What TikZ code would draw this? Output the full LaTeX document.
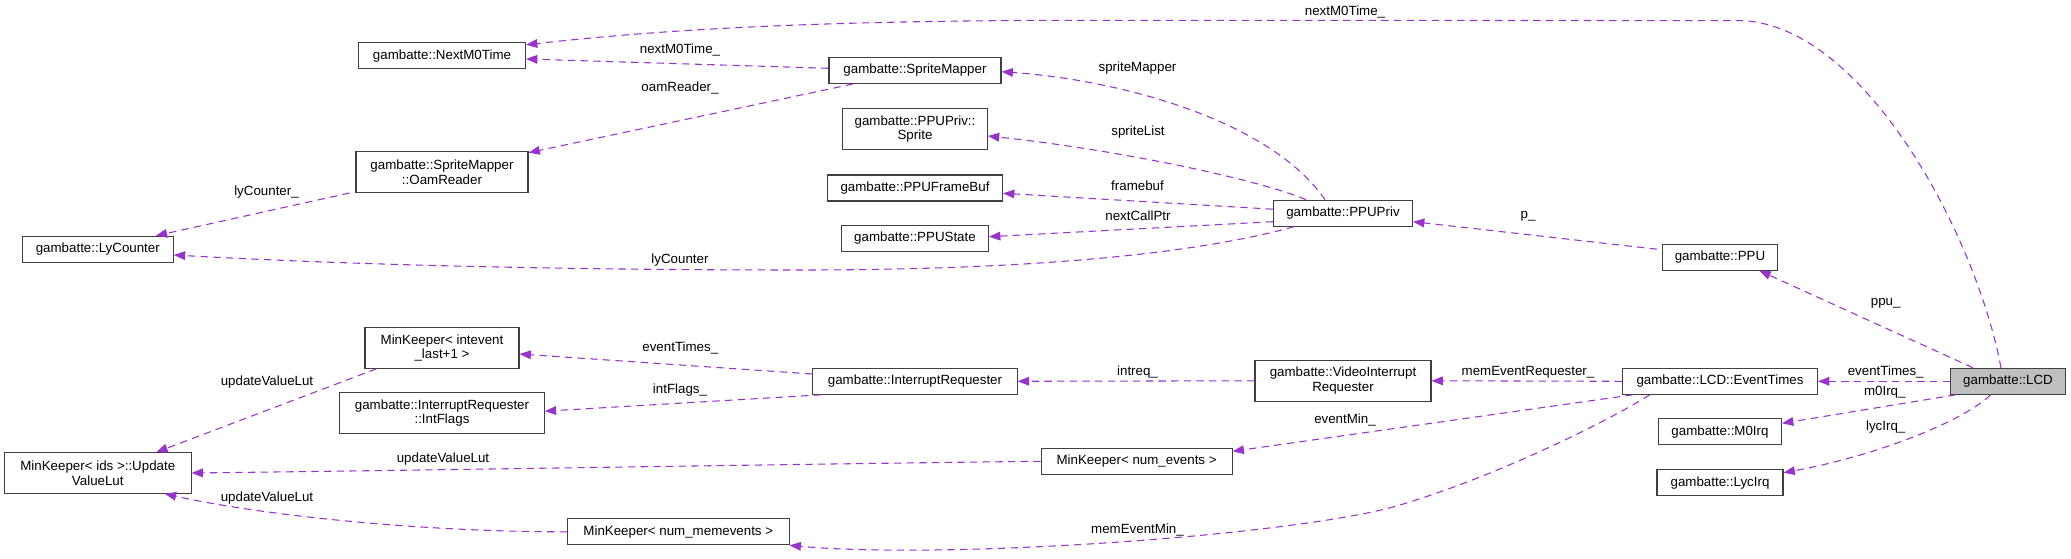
\documentclass[tikz,border=0pt]{standalone}
\usepackage{fontspec}
\setmainfont{Liberation Sans}
\usetikzlibrary{arrows.meta,calc}
\definecolor{edgec}{HTML}{9A32CD}
\definecolor{boxc}{HTML}{404040}
\definecolor{lcdfill}{HTML}{BFBFBF}
\tikzset{
  cls/.style={draw=boxc, line width=0.8pt, fill=white, inner sep=0pt, align=center,
    minimum height=19.5pt, font=\fontsize{10}{11}\selectfont},
  cls2/.style={cls, minimum height=30.4pt},
  rel/.style={draw=edgec, line width=0.8pt, dash pattern=on 5.5pt off 4pt,
    -{Triangle[length=8.5pt,width=6.5pt,fill=edgec]}},
  lbl/.style={inner sep=0pt, font=\fontsize{10}{11}\selectfont, text=black}
}
\begin{document}
\begin{tikzpicture}[x=0.75pt,y=-0.75pt]
\fill[white] (0,0) rectangle (2071,559);
\useasboundingbox (0,0) rectangle (2071,559);

% nodes
\node[cls, minimum width=125.25pt] (NextM0Time) at (442,55.8) {gambatte::NextM0Time};
\node[cls2, minimum width=129pt] (OamReader) at (442,172.2) {gambatte::SpriteMapper\\::OamReader};
\node[cls, minimum width=113.25pt] (LyCounter) at (97.8,249.3) {gambatte::LyCounter};
\node[cls2, minimum width=115.5pt] (MKint) at (442,348) {MinKeeper< intevent\\\_last+1 >};
\node[cls2, minimum width=153.4pt] (IntFlags) at (442,413.2) {gambatte::InterruptRequester\\::IntFlags};
\node[cls2, minimum width=139.9pt] (UVL) at (97.8,473) {MinKeeper< ids >::Update\\ValueLut};
\node[cls, minimum width=166.1pt] (MKmem) at (678.3,531.8) {MinKeeper< num\_memevents >};
\node[cls, minimum width=129pt] (SpriteMapper) at (915,70.5) {gambatte::SpriteMapper};
\node[cls2, minimum width=108.5pt] (Sprite) at (915,129.2) {gambatte::PPUPriv::\\Sprite};
\node[cls, minimum width=131.25pt] (FrameBuf) at (915,188) {gambatte::PPUFrameBuf};
\node[cls, minimum width=110.25pt] (PPUState) at (915,238.5) {gambatte::PPUState};
\node[cls, minimum width=104.25pt] (PPUPriv) at (1343,213.2) {gambatte::PPUPriv};
\node[cls, minimum width=153.3pt] (IntReq) at (915,381.3) {gambatte::InterruptRequester};
\node[cls2, minimum width=132pt] (VIR) at (1343,380.8) {gambatte::VideoInterrupt\\Requester};
\node[cls, minimum width=143.25pt] (MKev) at (1136.6,461.3) {MinKeeper< num\_events >};
\node[cls, minimum width=86.25pt] (PPU) at (1720,257.2) {gambatte::PPU};
\node[cls, minimum width=146.25pt] (EventTimes) at (1720,381.3) {gambatte::LCD::EventTimes};
\node[cls, minimum width=86.25pt, fill=lcdfill] (LCD) at (2008,381.3) {gambatte::LCD};
\node[cls, minimum width=92.25pt] (M0Irq) at (1720,431.8) {gambatte::M0Irq};
\node[cls, minimum width=94.5pt] (LycIrq) at (1720,482.7) {gambatte::LycIrq};

% edges
\draw[rel] ($(LCD.north)+(-7,0)$) .. controls (1975,230) and (1860,20.6) .. (1738,20.6)
  -- (1100,20.3) .. controls (800,20) and (650,31) .. ($(NextM0Time.north east)+(0,2.5)$);
\node[lbl] (l1) at (1345,11.7) {nextM0Time\_};

\draw[rel] ($(SpriteMapper.west)+(0,-2.2)$) -- ($(NextM0Time.east)+(0,3.2)$);
\node[lbl] (l2) at (680,50) {nextM0Time\_};

\draw[rel] ($(SpriteMapper.south)+(-62,0)$) -- ($(OamReader.north east)+(0,1.3)$);
\node[lbl] (l3) at (680,88) {oamReader\_};

\draw[rel] ($(OamReader.south west)+(-6,0)$) -- ($(LyCounter.north)+(58,0)$);
\node[lbl] (l4) at (266.5,192.3) {lyCounter\_};

\draw[rel] ($(PPUPriv.south)+(-49,0)$) .. controls (1180,258) and (1000,270) .. (800,270)
  .. controls (500,270) and (300,262) .. ($(LyCounter.east)+(0,5.7)$);
\node[lbl] (l5) at (680,260) {lyCounter};

\draw[rel] ($(PPUPriv.north)+(-18,0)$) .. controls (1270,120) and (1120,80) .. ($(SpriteMapper.east)+(0,1.2)$);
\node[lbl] (l6) at (1137.5,67.7) {spriteMapper};

\draw[rel] ($(PPUPriv.north west)+(33,0)$) .. controls (1260,180) and (1120,150) .. ($(Sprite.east)+(0,6.8)$);
\node[lbl] (l7) at (1138,132.3) {spriteList};

\draw[rel] ($(PPUPriv.west)+(0,-4)$) -- ($(FrameBuf.east)+(0,5.3)$);
\node[lbl] (l8) at (1137.5,185.7) {framebuf};

\draw[rel] ($(PPUPriv.west)+(0,8.5)$) -- ($(PPUState.east)+(0,-1.8)$);
\node[lbl] (l9) at (1138,216) {nextCallPtr};

\draw[rel] ($(PPU.west)+(-5,-8)$) -- ($(PPUPriv.east)+(0,8.5)$);
\node[lbl] (l10) at (1528,216.7) {p\_};

\draw[rel] ($(LCD.north west)+(23,0)$) -- ($(PPU.south)+(39.4,0)$);
\node[lbl] (l11) at (1885.7,303.3) {ppu\_};

\draw[rel] (LCD.west) -- (EventTimes.east);
\node[lbl] (l12) at (1885.7,372.3) {eventTimes\_};

\draw[rel] ($(LCD.south west)+(5.6,0)$) -- ($(M0Irq.east)+(0,-8.5)$);
\node[lbl] (l13) at (1884.8,392.7) {m0Irq\_};

\draw[rel] ($(LCD.south)+(-17.5,0)$) .. controls (1965,420) and (1880,455) .. ($(LycIrq.east)+(0,-10)$);
\node[lbl] (l14) at (1885.7,426.7) {lycIrq\_};

\draw[rel] (EventTimes.west) -- (VIR.east);
\node[lbl] (l15) at (1528,372.3) {memEventRequester\_};

\draw[rel] ($(EventTimes.south west)+(10.7,0)$) -- ($(MKev.east)+(0,-10)$);
\node[lbl] (l16) at (1345,420) {eventMin\_};

\draw[rel] ($(EventTimes.south west)+(27.8,0)$) .. controls (1610,420) and (1500,475) .. (1400,505)
  .. controls (1300,535) and (950,560) .. (MKmem.south east);
\node[lbl] (l17) at (1137.5,530) {memEventMin\_};

\draw[rel] ($(IntReq.west)+(0,-7.3)$) -- ($(MKint.east)+(0,6)$);
\node[lbl] (l18) at (680.3,347.7) {eventTimes\_};

\draw[rel] ($(IntReq.south west)+(8.7,0)$) -- ($(IntFlags.east)+(0,-2)$);
\node[lbl] (l19) at (680,390) {intFlags\_};

\draw[rel] (VIR.west) -- (IntReq.east);
\node[lbl] (l20) at (1137.5,372.3) {intreq\_};

\draw[rel] ($(MKint.south west)+(12,0)$) -- ($(UVL.north)+(58.5,0)$);
\node[lbl] (l21) at (267,381.7) {updateValueLut};

\draw[rel] (MKev.west) .. controls (800,464) and (450,470) .. (UVL.east);
\node[lbl] (l22) at (443,459) {updateValueLut};

\draw[rel] (MKmem.west) .. controls (420,532) and (260,515) .. ($(UVL.south)+(67,0)$);
\node[lbl] (l23) at (267,498.3) {updateValueLut};
\end{tikzpicture}
\end{document}
